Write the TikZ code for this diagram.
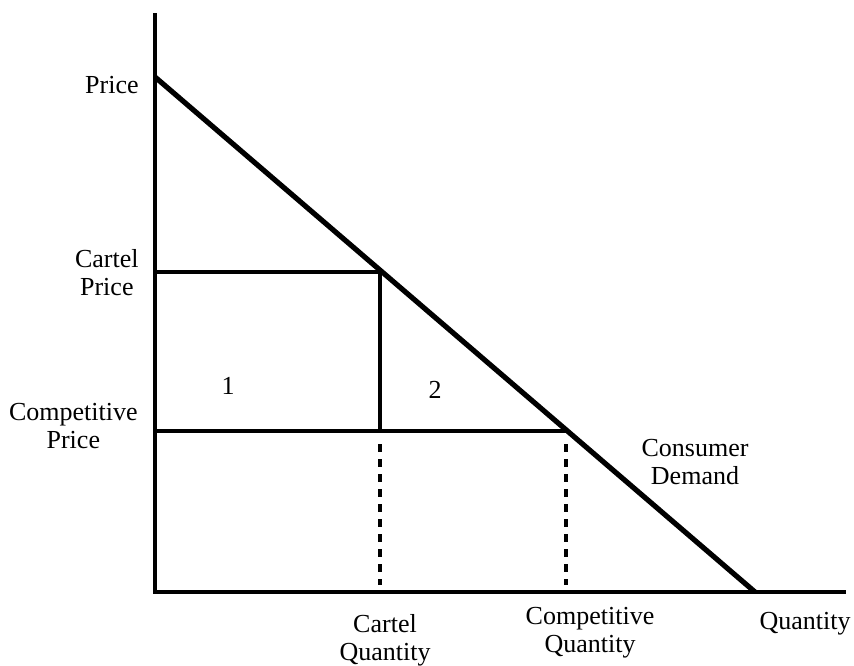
\documentclass[tikz,border=0pt]{standalone}
\usepackage{fontspec}
\setmainfont{Liberation Serif}
\begin{document}
\begin{tikzpicture}[x=0.5pt,y=-0.5pt,
  lbl/.style={inner sep=0pt,align=center,font=\fontsize{13}{14}\selectfont},
  axisline/.style={line width=2pt},
  demandline/.style={line width=2.6pt},
  guide/.style={line width=1.9pt},
  dotguide/.style={line width=1.9pt,dash pattern=on 4pt off 3.5pt}]
\useasboundingbox (0,0) rectangle (854,665);
% coordinates
\coordinate (ytop) at (155,13);
\coordinate (origin) at (155,592);
\coordinate (xend) at (846,592);
\coordinate (dstart) at (155,77);
\coordinate (dend) at (755,592);
\coordinate (cp) at (155,272);
\coordinate (cpt) at (380,272);
\coordinate (cq) at (380,431);
\coordinate (cqd) at (380,444);
\coordinate (cqb) at (380,585);
\coordinate (kp) at (155,431);
\coordinate (kpt) at (566,431);
\coordinate (kqd) at (566,444);
\coordinate (kqb) at (566,585);
% axes
\draw[axisline] (ytop) -- (origin) -- (xend);
% demand
\draw[demandline] (dstart) -- (dend);
% guides
\draw[guide] (cp) -- (cpt) -- (cq);
\draw[guide] (kp) -- (kpt);
\draw[dotguide] (cqd) -- (cqb);
\draw[dotguide] (kqd) -- (kqb);
% labels
\node[lbl,anchor=east] (lprice) at (139,85) {Price};
\node[lbl,anchor=east] (lcartelp) at (139,273) {Cartel\\Price};
\node[lbl,anchor=east] (lcompp) at (138,426) {Competitive\\Price};
\node[lbl] (one) at (228,386) {1};
\node[lbl] (two) at (435,390) {2};
\node[lbl] (ldemand) at (695,462) {Consumer\\Demand};
\node[lbl] (lcartelq) at (385,640) {Cartel\\Quantity};
\node[lbl] (lcompq) at (590,633) {Competitive\\Quantity};
\node[lbl] (lqty) at (805,624) {Quantity};
\end{tikzpicture}
\end{document}
